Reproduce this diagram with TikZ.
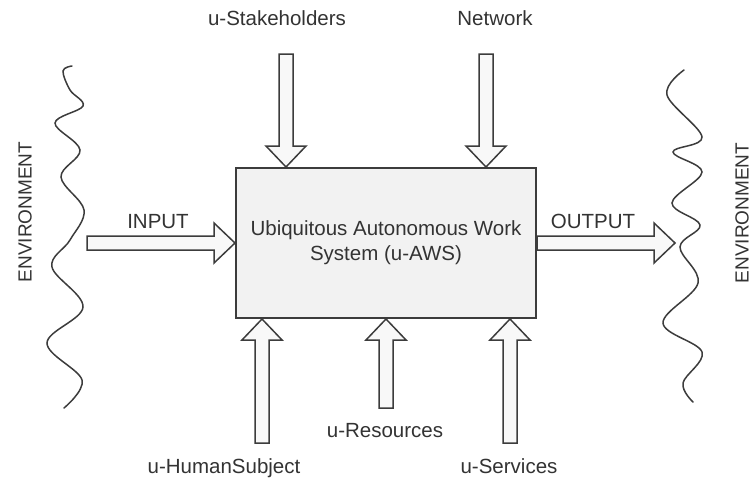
\documentclass[tikz,border=0pt]{standalone}
\usepackage{fontspec}
\setmainfont{Liberation Sans}
\usetikzlibrary{calc}

\definecolor{ink}{HTML}{3C3C3C}
\definecolor{txt}{HTML}{333333}
\definecolor{boxfill}{HTML}{F2F2F2}
\definecolor{arrfill}{HTML}{F8F8F8}

% Hollow block arrow from #1 (tail) to #2 (tip)
\newcommand\blockarrow[2]{%
  \path[blockarr] let \p1=(#1), \p2=(#2),
      \n1={atan2(\y2-\y1,\x2-\x1)},
      \n2={veclen(\x2-\x1,\y2-\y1)} in
    [shift={(\p1)}, rotate=\n1]
    (0pt,-7pt) -- ({(\n2-21)*1pt},-7pt) -- ({(\n2-21)*1pt},-20pt)
    -- ({\n2*1pt},0pt) -- ({(\n2-21)*1pt},20pt) -- ({(\n2-21)*1pt},7pt)
    -- (0pt,7pt) -- cycle;%
}

\begin{document}
\begin{tikzpicture}[x=1pt,y=1pt,
  lbl/.style={font=\fontsize{20.5}{24}\selectfont, text=txt, inner sep=0pt},
  envlbl/.style={font=\fontsize{19}{22}\selectfont, text=txt, inner sep=0pt, rotate=90},
  sysbox/.style={draw=ink, line width=2pt, fill=boxfill, minimum width=300pt,
    minimum height=150pt, align=center, inner sep=0pt,
    font=\fontsize{20.5}{25}\selectfont, text=txt},
  blockarr/.style={draw=ink, line width=1.5pt, fill=arrfill, line join=miter},
  wave/.style={draw=ink, line width=1.5pt, line cap=round}]

\useasboundingbox (0,0) rectangle (752,-479);
\fill[white] (0,0) rectangle (752,-479);

% central system
\node[sysbox] (sys) at (386,-243) {Ubiquitous Autonomous Work\\System (u-AWS)};

% arrow tails
\coordinate (stk) at (286,-54);
\coordinate (net) at (486,-54);
\coordinate (hum) at (262,-443);
\coordinate (res) at (386,-408);
\coordinate (srv) at (510,-443);
\coordinate (inp) at (87,-243);
\coordinate (outp) at (675,-243);

\blockarrow{stk}{stk |- sys.north}
\blockarrow{net}{net |- sys.north}
\blockarrow{hum}{hum |- sys.south}
\blockarrow{res}{res |- sys.south}
\blockarrow{srv}{srv |- sys.south}
\blockarrow{inp}{sys.west}
\blockarrow{sys.east}{outp}

% labels
\node[lbl, anchor=base] (lstk) at (277,-25) {u-Stakeholders};
\node[lbl, anchor=base] (lnet) at (495,-25) {Network};
\node[lbl, anchor=base] (linp) at (158,-228) {INPUT};
\node[lbl, anchor=base] (lout) at (593,-228) {OUTPUT};
\node[lbl, anchor=base] (lres) at (385,-437) {u-Resources};
\node[lbl, anchor=base] (lhum) at (224,-473) {u-HumanSubject};
\node[lbl, anchor=base] (lsrv) at (509,-473) {u-Services};
\node[envlbl] (envl) at (25,-212) {ENVIRONMENT};
\node[envlbl] (envr) at (742,-213) {ENVIRONMENT};

% environment boundaries
\draw[wave] plot[smooth, tension=0.6] coordinates {
  (72,-66) (63,-71) (70,-90) (83,-106) (55,-123) (80,-150) (61,-177)
  (84,-210) (70,-240) (52,-267) (83,-307) (47,-343) (82,-380) (64,-408)};
\draw[wave] plot[smooth, tension=0.6] coordinates {
  (684,-70) (667,-95) (702,-137) (673,-152) (702,-172) (672,-203)
  (700,-225) (680,-247) (698,-283) (663,-323) (702,-352) (683,-383) (693,-402)};

\end{tikzpicture}
\end{document}
